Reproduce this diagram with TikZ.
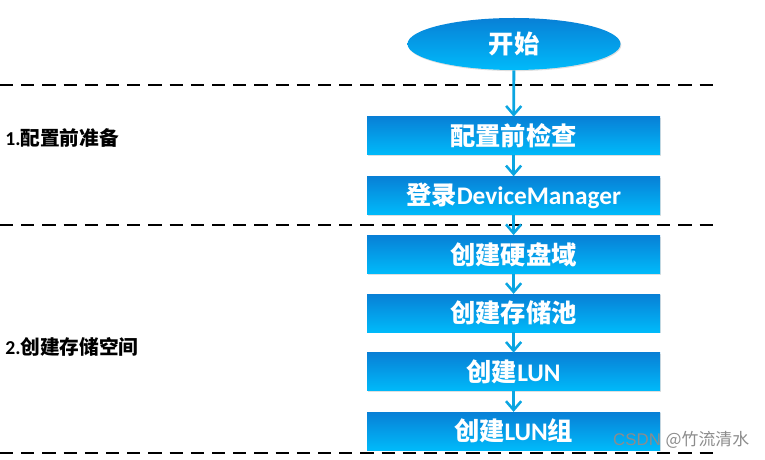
\documentclass[tikz,border=0pt]{standalone}
\usepackage{fontspec}
\setmainfont{Carlito}
\newfontfamily\cjk{Noto Sans CJK SC}
\usepackage{xcolor}
\usepackage{tikz}
\usetikzlibrary{arrows.meta,positioning,shapes.geometric,shadows}
\definecolor{boxtop}{RGB}{8,128,214}
\definecolor{boxbot}{RGB}{0,186,250}
\definecolor{arrowblue}{RGB}{10,165,225}

\begin{document}
\begin{tikzpicture}[font=\bfseries,
  stepbox/.style={rectangle,minimum width=7.325cm,minimum height=0.95cm,
    top color=boxtop,bottom color=boxbot,text=white,font=\fontsize{18}{20}\selectfont\bfseries,
    drop shadow={opacity=0.25,shadow xshift=0.6pt,shadow yshift=-0.8pt}},
  flow/.style={-{Straight Barb[length=2.2mm,width=3.8mm,line width=1.8pt]},line width=2pt,draw=arrowblue},
  sep/.style={line width=1.4pt,dash pattern=on 0.33cm off 0.2cm}]
  \useasboundingbox (0,0) rectangle (19.125,-11.5);
  % start
  \node[ellipse,minimum width=5.325cm,minimum height=1.3cm,inner sep=0pt,
        top color=boxtop,bottom color=boxbot,text=white,
        font=\fontsize{18}{20}\selectfont\bfseries,
        drop shadow={opacity=0.25,shadow xshift=0.6pt,shadow yshift=-0.8pt}]
       (start) at (12.85,-1.1) {\cjk 开始};
  % separators
  \draw[sep] (0,-2.125) coordinate (s1l) -- (18,-2.125) coordinate (s1r);
  \draw[sep] (0,-5.625) coordinate (s2l) -- (18,-5.625) coordinate (s2r);
  \draw[sep] (0,-11.325) coordinate (s3l) -- (18,-11.325) coordinate (s3r);
  % phases
  \node[right,inner sep=0pt,font=\fontsize{14}{16}\selectfont\bfseries] (prep) at (0.125,-3.45)
       {1.{\cjk 配置前准备}};
  \node[right,inner sep=0pt,font=\fontsize{14}{16}\selectfont\bfseries] (create) at (0.125,-8.675)
       {2.{\cjk 创建存储空间}};
  % steps
  \node[stepbox] (check)  at (12.84,-3.4)   {\cjk 配置前检查};
  \node[stepbox] (login)  at (12.84,-4.89)  {{\cjk 登录}DeviceManager};
  \node[stepbox] (domain) at (12.84,-6.36)  {\cjk 创建硬盘域};
  \node[stepbox] (pool)   at (12.84,-7.83)  {\cjk 创建存储池};
  \node[stepbox] (lun)    at (12.84,-9.3)   {{\cjk 创建}LUN};
  \node[stepbox] (lungrp) at (12.84,-10.78) {{\cjk 创建}LUN{\cjk 组}};
  % arrows
  \draw[flow] (start) -- (check);
  \draw[flow] (check) -- (login);
  \draw[flow] (login) -- (domain);
  \draw[flow] (domain) -- (pool);
  \draw[flow] (pool) -- (lun);
  \draw[flow] (lun) -- (lungrp);
  % watermark
  \node[text=black!45,font=\fontsize{12}{14}\selectfont\mdseries] (mark) at (17.03,-11.0)
       {\fontspec{Liberation Sans}CSDN {\cjk @竹流清水}};
\end{tikzpicture}
\end{document}
